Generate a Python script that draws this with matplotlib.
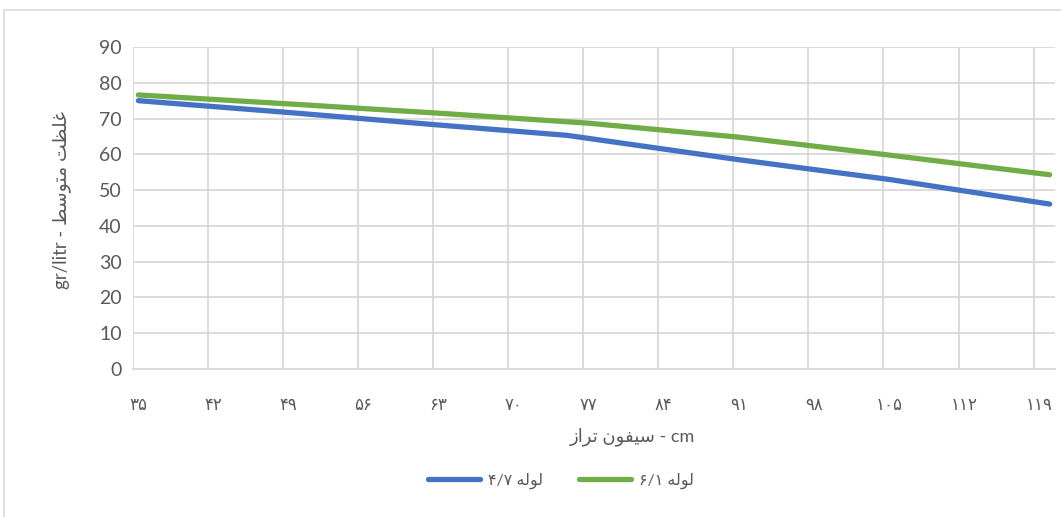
import matplotlib
matplotlib.use("Agg")
import matplotlib.pyplot as plt
from matplotlib.patches import Rectangle
import numpy as np

# siphon level (cm) and mean density (gr/litr) for each pipe
level_47 = [35, 49, 63, 75, 91, 105, 120]
density_47 = [75.0, 71.7, 68.2, 65.3, 58.5, 53.0, 46.1]
level_61 = [35, 49, 63, 77, 91, 105, 120]
density_61 = [76.6, 74.1, 71.5, 68.7, 64.8, 59.8, 54.3]

tick_vals = [35, 42, 49, 56, 63, 70, 77, 84, 91, 98, 105, 112, 119]
fa_digits = "۰۱۲۳۴۵۶۷۸۹"
tick_labels = ["".join(fa_digits[int(c)] for c in str(v)) for v in tick_vals]

# persian words, already shaped and laid out left to right
w_ghelzat = "\uFE96\uFEC8\uFEE0\uFECF"
w_motevaset = "\uFEC2\uFEB3\uFEEE\uFE98\uFEE3"
w_taraz = "\uFEAF\uFE8D\uFEAE\uFE97"
w_sifon = "\uFEE5\uFEEE\uFED4\uFEF4\uFEB3"
w_lole = "\uFEEA\uFEDF\uFEEE\uFEDF"

ylabel = "gr/litr - " + w_motevaset + " " + w_ghelzat
xlabel = w_taraz + " " + w_sifon + " - cm"
name_47 = "۴/۷ " + w_lole
name_61 = "۶/۱ " + w_lole

fam = ["Lato", "DejaVu Sans"]
grey = "#595959"
grid_c = "#d9d9d9"

fig = plt.figure(figsize=(10.61, 5.17), dpi=100)
fig.patches.append(Rectangle((4 / 1061, -0.1), 1.2, (517 - 10) / 517 + 0.1,
                             transform=fig.transFigure, fill=False,
                             edgecolor=grid_c, lw=1.2))
ax = fig.add_axes([133 / 1061, 1 - 369 / 517, (1055 - 133) / 1061, (369 - 47) / 517])

l1, = ax.plot(level_47, density_47, color="#4472C4", lw=3.8, solid_capstyle="round")
l2, = ax.plot(level_61, density_61, color="#70AD47", lw=3.8, solid_capstyle="round")

ax.set_xlim(34.5, 120.5)
ax.set_ylim(0, 90)
ax.set_yticks(range(0, 91, 10))
ax.set_xticks(tick_vals)
ax.set_xticklabels(tick_labels, family=fam, fontsize=12, color=grey)
ax.set_xticks(np.arange(34.5, 120, 7), minor=True)
ax.tick_params(axis="x", which="both", length=0, pad=20)
ax.tick_params(axis="y", length=0, pad=8, labelsize=14, labelcolor=grey)
for lab in ax.get_yticklabels():
    lab.set_family(fam)

ax.grid(axis="y", color=grid_c, lw=1.3)
ax.grid(axis="x", which="minor", color=grid_c, lw=1.3)
ax.set_axisbelow(True)
for s in ["top", "right", "left"]:
    ax.spines[s].set_visible(False)
ax.spines["bottom"].set_color(grid_c)
ax.spines["bottom"].set_linewidth(1.3)

fig.text(62 / 1061, 1 - 200 / 517, ylabel, rotation=90, ha="center", va="center",
         family=fam, fontsize=13.5, color=grey)
fig.text(632 / 1061, 1 - 437 / 517, xlabel, ha="center", va="center",
         family=fam, fontsize=13, color=grey)

leg = fig.legend([l1, l2], [name_47, name_61], loc="center", ncol=2,
                 bbox_to_anchor=(561 / 1061, 1 - 481 / 517), frameon=False,
                 handlelength=3.3, columnspacing=2.2, handletextpad=0.5,
                 prop={"family": fam, "size": 11.5})
for t in leg.get_texts():
    t.set_color(grey)

fig.savefig("out.png", dpi=100)
